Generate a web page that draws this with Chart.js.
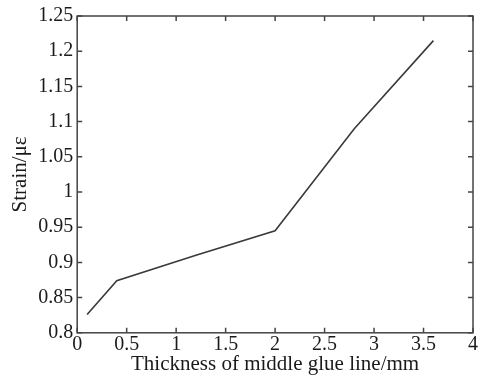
<!DOCTYPE html>
<html>
<head>
<meta charset="utf-8">
<script src="https://cdn.jsdelivr.net/npm/chart.js@4"></script>
<style>
  html, body { margin: 0; padding: 0; background: #fff; }
  #wrap { width: 479px; height: 376px; }
</style>
</head>
<body>
<div id="wrap"><canvas id="strainChart" width="479" height="376"></canvas></div>
<script>
// values
const thickness = [0.1, 0.4, 1.2, 2.0, 2.8, 3.6];
const strain = [0.826, 0.874, 0.91, 0.945, 1.09, 1.215];
const xTicks = [0, 0.5, 1, 1.5, 2, 2.5, 3, 3.5, 4];
const yTicks = [0.8, 0.85, 0.9, 0.95, 1, 1.05, 1.1, 1.15, 1.2, 1.25];

const font = 'Liberation Serif';
const axisColor = '#444';

// MATLAB-ish box with inward ticks on all four sides
const boxTicks = {
    id: 'boxTicks',
    afterDraw(chart) {
        const { ctx, chartArea: a, scales: { x, y } } = chart;
        const len = 5;
        ctx.save();
        ctx.strokeStyle = axisColor;
        ctx.lineWidth = 1.5;
        ctx.strokeRect(a.left, a.top, a.right - a.left, a.bottom - a.top);
        ctx.beginPath();
        xTicks.forEach(v => {
            const px = x.getPixelForValue(v);
            ctx.moveTo(px, a.bottom); ctx.lineTo(px, a.bottom - len);
            ctx.moveTo(px, a.top); ctx.lineTo(px, a.top + len);
        });
        yTicks.forEach(v => {
            const py = y.getPixelForValue(v);
            ctx.moveTo(a.left, py); ctx.lineTo(a.left + len, py);
            ctx.moveTo(a.right, py); ctx.lineTo(a.right - len, py);
        });
        ctx.stroke();
        ctx.restore();
    }
};

const fmt = v => String(parseFloat(Number(v).toFixed(2)));

new Chart(document.getElementById('strainChart'), {
    type: 'line',
    data: {
        datasets: [{
            data: thickness.map((t, i) => ({ x: t, y: strain[i] })),
            borderColor: '#3a3a3a',
            borderWidth: 1.6,
            pointRadius: 0,
            tension: 0,
            fill: false
        }]
    },
    options: {
        responsive: false,
        animation: false,
        layout: { padding: { left: 8, right: 6, top: 4, bottom: 0 } },
        plugins: { legend: { display: false }, tooltip: { enabled: false } },
        scales: {
            x: {
                type: 'linear',
                min: 0, max: 4,
                afterBuildTicks: s => { s.ticks = xTicks.map(v => ({ value: v })); },
                ticks: { callback: fmt, color: '#1a1a1a', font: { family: font, size: 20 }, padding: 0, maxRotation: 0 },
                grid: { drawOnChartArea: false, drawTicks: false },
                border: { display: false },
                title: { display: true, text: 'Thickness of middle glue line/mm', color: '#1a1a1a',
                         font: { family: font, size: 21 }, padding: { top: -5, bottom: -1 } }
            },
            y: {
                type: 'linear',
                min: 0.8, max: 1.25,
                afterBuildTicks: s => { s.ticks = yTicks.map(v => ({ value: v })); },
                ticks: { callback: fmt, color: '#1a1a1a', font: { family: font, size: 20 }, padding: 4 },
                grid: { drawOnChartArea: false, drawTicks: false },
                border: { display: false },
                title: { display: true, text: 'Strain/με', color: '#1a1a1a',
                         font: { family: font, size: 21 }, padding: { top: 0, bottom: 1 } }
            }
        }
    },
    plugins: [boxTicks]
});
</script>
</body>
</html>
